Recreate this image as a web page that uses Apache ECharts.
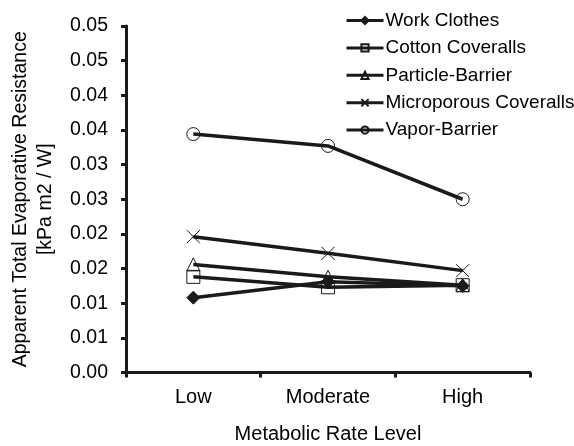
<!DOCTYPE html>
<html>
<head>
<meta charset="utf-8">
<script src="https://cdn.jsdelivr.net/npm/echarts@6/dist/echarts.min.js"></script>
<style>html,body{margin:0;padding:0;background:#fff}#c{width:574px;height:446px}</style>
</head>
<body>
<div id="c"></div>
<script>
const categories = ['Low', 'Moderate', 'High'];
const workClothes = [0.0108, 0.0131, 0.0125];
const cottonCoveralls = [0.0138, 0.0123, 0.0126];
const particleBarrier = [0.0156, 0.0138, 0.0126];
const microporousCoveralls = [0.0196, 0.0172, 0.0147];
const vaporBarrier = [0.0344, 0.0327, 0.0250];
const yTickLabels = ['0.00','0.01','0.01','0.02','0.02','0.03','0.03','0.04','0.04','0.05','0.05'];

const FONT = 'Liberation Sans, Arial, sans-serif';
const chart = echarts.init(document.getElementById('c'), null, {renderer: 'canvas'});

function mk(name, data, symbol, size, filled) {
  return {
    name: name, type: 'line', data: data,
    symbol: symbol, symbolSize: size,
    lineStyle: {color: '#1a1a1a', width: 3.5},
    itemStyle: filled ? {color: '#1a1a1a', borderColor: '#1a1a1a', borderWidth: 1}
                      : {color: 'rgba(0,0,0,0)', borderColor: '#1a1a1a', borderWidth: 1},
    emphasis: {disabled: true},
    animation: false
  };
}

chart.setOption({
  animation: false,
  backgroundColor: '#fff',
  textStyle: {fontFamily: FONT, color: '#000'},
  grid: {left: 126, right: 44, top: 26, bottom: 73.5, containLabel: false, outerBoundsMode: 'none'},
  legend: {
    orient: 'vertical', left: 340, top: 6,
    itemWidth: 37, itemHeight: 9, itemGap: 8.4,
    lineStyle: {width: 3},
    textStyle: {fontFamily: FONT, fontSize: 19, color: '#000', padding: [0,0,0,-3]},
    data: ['Work Clothes','Cotton Coveralls','Particle-Barrier','Microporous Coveralls','Vapor-Barrier']
  },
  xAxis: {
    type: 'category', data: categories,
    name: 'Metabolic Rate Level', nameLocation: 'middle', nameGap: 52,
    nameTextStyle: {fontFamily: FONT, fontSize: 20, color: '#000'},
    axisLine: {lineStyle: {color: '#1a1a1a', width: 3}},
    axisTick: {show: true, length: 5, lineStyle: {color: '#1a1a1a', width: 3}},
    axisLabel: {fontFamily: FONT, fontSize: 20, color: '#000', margin: 15},
    splitLine: {show: false}
  },
  yAxis: {
    type: 'value', min: 0, max: 0.05, interval: 0.005,
    name: 'Apparent Total Evaporative Resistance\n[kPa m2 / W]',
    nameLocation: 'middle', nameGap: 68, nameRotate: 90,
    nameTextStyle: {fontFamily: FONT, fontSize: 19.5, color: '#000', lineHeight: 25, align: 'center'},
    axisLine: {show: true, lineStyle: {color: '#1a1a1a', width: 3}},
    axisTick: {show: true, length: 5, lineStyle: {color: '#1a1a1a', width: 3}},
    axisLabel: {fontFamily: FONT, fontSize: 19.5, color: '#000', margin: 18,
      formatter: function (v) { return yTickLabels[Math.round(v / 0.005)]; }},
    splitLine: {show: false}
  },
  series: [
    mk('Work Clothes', workClothes, 'diamond', 13, true),
    mk('Cotton Coveralls', cottonCoveralls, 'rect', 13, false),
    mk('Particle-Barrier', particleBarrier, 'triangle', 13, false),
    mk('Microporous Coveralls', microporousCoveralls, 'path://M0,0L10,10M10,0L0,10', 13, false),
    mk('Vapor-Barrier', vaporBarrier, 'circle', 13, false)
  ]
});
</script>
</body>
</html>
